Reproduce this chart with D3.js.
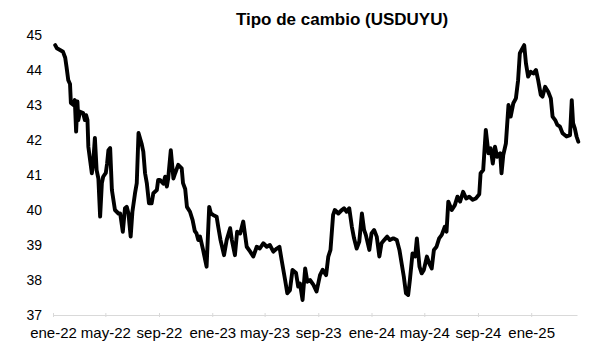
<!DOCTYPE html>
<html>
<head>
<meta charset="utf-8">
<script src="https://cdn.jsdelivr.net/npm/d3@7"></script>
<style>
  body { margin: 0; background: #fff; }
  svg { display: block; font-family: Arial, "Liberation Sans", sans-serif; }
</style>
</head>
<body>
<div id="chart"></div>
<script>
// Tipo de cambio USDUYU, lectura aproximada del gráfico
const fechas = [
  "2022-01-06","2022-01-10","2022-01-17","2022-01-24","2022-01-29","2022-02-01","2022-02-05","2022-02-09",
  "2022-02-11","2022-02-17","2022-02-20","2022-02-23","2022-02-26","2022-02-28","2022-03-04","2022-03-11",
  "2022-03-15","2022-03-18","2022-03-21","2022-03-23","2022-03-27","2022-03-31","2022-04-03","2022-04-07",
  "2022-04-11","2022-04-15","2022-04-19","2022-04-23","2022-04-26","2022-05-02","2022-05-05","2022-05-08",
  "2022-05-12","2022-05-16","2022-05-23","2022-05-31","2022-06-04","2022-06-10","2022-06-15","2022-06-19",
  "2022-06-23","2022-06-28","2022-07-02","2022-07-08","2022-07-12","2022-07-16","2022-07-23","2022-07-27",
  "2022-07-31","2022-08-04","2022-08-09","2022-08-15","2022-08-19","2022-08-27","2022-08-30","2022-09-03",
  "2022-09-11","2022-09-15","2022-09-19","2022-09-22","2022-09-28","2022-10-04","2022-10-08","2022-10-15",
  "2022-10-23","2022-10-26","2022-10-31","2022-11-04","2022-11-11","2022-11-17","2022-11-22","2022-11-26",
  "2022-11-30","2022-12-04","2022-12-11","2022-12-19","2022-12-25","2022-12-29","2023-01-03","2023-01-11",
  "2023-01-15","2023-01-20","2023-01-28","2023-02-03","2023-02-11","2023-02-15","2023-02-22","2023-02-27",
  "2023-03-06","2023-03-13","2023-03-21","2023-03-29","2023-04-05","2023-04-13","2023-04-20","2023-04-28",
  "2023-05-06","2023-05-13","2023-05-21","2023-05-29","2023-06-04","2023-06-09","2023-06-17","2023-06-22",
  "2023-06-28","2023-07-04","2023-07-12","2023-07-17","2023-07-21","2023-07-27","2023-08-02","2023-08-07",
  "2023-08-13","2023-08-21","2023-08-28","2023-09-05","2023-09-11","2023-09-19","2023-09-24","2023-09-29",
  "2023-10-05","2023-10-09","2023-10-17","2023-10-25","2023-10-30","2023-11-05","2023-11-11","2023-11-17",
  "2023-11-22","2023-11-28","2023-12-04","2023-12-10","2023-12-15","2023-12-19","2023-12-27","2024-01-01",
  "2024-01-07","2024-01-13","2024-01-19","2024-01-24","2024-01-30","2024-02-06","2024-02-12","2024-02-20",
  "2024-02-28","2024-03-05","2024-03-10","2024-03-15","2024-03-20","2024-03-25","2024-03-29","2024-04-04",
  "2024-04-10","2024-04-14","2024-04-20","2024-04-25","2024-04-30","2024-05-07","2024-05-12","2024-05-18",
  "2024-05-23","2024-05-29","2024-06-04","2024-06-10","2024-06-17","2024-06-21","2024-06-25","2024-07-03",
  "2024-07-10","2024-07-16","2024-07-22","2024-07-29","2024-08-05","2024-08-12","2024-08-20","2024-08-27",
  "2024-09-04","2024-09-07","2024-09-13","2024-09-19","2024-09-25","2024-09-30","2024-10-05","2024-10-10",
  "2024-10-15","2024-10-22","2024-10-25","2024-10-29","2024-11-04","2024-11-10","2024-11-15","2024-11-21",
  "2024-11-27","2024-12-02","2024-12-06","2024-12-10","2024-12-16","2024-12-20","2024-12-25","2024-12-31",
  "2025-01-06","2025-01-12","2025-01-17","2025-01-23","2025-01-27","2025-02-02","2025-02-09","2025-02-15",
  "2025-02-19","2025-02-25","2025-03-02","2025-03-08","2025-03-14","2025-03-23","2025-03-31","2025-04-04",
  "2025-04-07","2025-04-11","2025-04-15","2025-04-19"
];

const usduyu = [
  44.71,44.62,44.57,44.52,44.35,44.09,43.71,43.60,
  43.06,43.00,43.14,42.24,43.10,42.57,42.81,42.77,
  42.57,42.71,42.57,41.81,41.43,41.05,41.33,42.06,
  41.14,40.90,39.81,40.77,40.95,41.06,41.33,41.71,
  41.77,40.57,40.00,39.90,39.90,39.38,40.05,40.09,
  39.90,39.24,39.95,40.48,40.77,42.20,41.90,41.67,
  41.05,40.77,40.19,40.19,40.48,40.57,40.86,40.86,
  40.75,40.95,40.67,40.90,41.71,40.90,41.05,41.29,
  41.19,40.77,40.60,40.09,39.95,39.71,39.40,39.33,
  39.14,39.24,38.86,38.38,40.09,39.90,39.86,39.81,
  39.50,39.14,38.71,39.14,39.48,39.14,38.71,39.38,
  39.33,39.67,38.95,38.81,38.67,38.95,38.90,39.05,
  38.95,39.00,38.81,38.90,38.95,38.57,38.00,37.62,
  37.71,38.29,38.20,37.81,37.90,37.43,38.33,37.95,
  38.00,37.86,37.67,38.14,38.29,38.14,38.67,38.86,
  39.86,40.00,39.90,40.00,40.05,39.95,40.05,39.52,
  39.19,38.90,39.10,39.90,39.43,39.29,38.86,39.33,
  39.43,39.24,38.67,39.05,39.14,39.24,39.14,39.19,
  39.14,38.86,38.48,38.10,37.62,37.57,38.00,38.76,
  38.67,39.19,38.38,38.19,38.29,38.67,38.48,38.33,
  38.86,38.95,39.19,39.29,39.52,39.38,40.24,40.00,
  40.14,40.38,40.24,40.52,40.33,40.38,40.29,40.33,
  40.45,41.05,41.14,42.29,41.62,41.76,41.33,41.81,
  41.52,41.62,41.05,41.57,41.90,43.00,42.67,43.05,
  43.19,43.71,44.48,44.57,44.71,44.19,43.81,43.95,
  43.90,44.00,43.71,43.29,43.24,43.52,43.38,43.19,
  42.67,42.57,42.43,42.38,42.19,42.10,42.14,43.14,
  42.48,42.33,42.10,41.95
];

const yTicks = [37, 38, 39, 40, 41, 42, 43, 44, 45];
const mesesAbrev = ["ene","feb","mar","abr","may","jun","jul","ago","sep","oct","nov","dic"];
const titulo = "Tipo de cambio (USDUYU)";

const width = 609;
const height = 343;
const parseDate = d3.timeParse("%Y-%m-%d");
const data = fechas.map((f, i) => ({date: parseDate(f), value: usduyu[i]}));

const x = d3.scaleTime()
    .domain([parseDate("2022-01-01"), parseDate("2025-04-16")])
    .range([53, 577]);

const y = d3.scaleLinear()
    .domain([37, 45])
    .range([315, 35]);

const svg = d3.select("#chart").append("svg")
    .attr("width", width)
    .attr("height", height)
    .attr("viewBox", [0, 0, width, height]);

// titulo
svg.append("text")
    .attr("x", 342)
    .attr("y", 25)
    .attr("text-anchor", "middle")
    .attr("font-weight", "bold")
    .attr("font-size", 17)
    .attr("fill", "#000")
    .text(titulo);

// eje x
const fmtMes = d => `${mesesAbrev[d.getMonth()]}-${String(d.getFullYear()).slice(2)}`;
const xAxis = d3.axisBottom(x)
    .ticks(d3.timeMonth.every(4))
    .tickFormat(fmtMes)
    .tickSizeInner(4)
    .tickSizeOuter(0)
    .tickPadding(10);

svg.append("g")
    .attr("transform", "translate(0,313)")
    .call(xAxis)
    .call(g => g.select(".domain").attr("stroke", "#d9d9d9").attr("transform", "translate(0,2)"))
    .call(g => g.selectAll(".tick line").attr("stroke", "#d9d9d9"))
    .call(g => g.selectAll(".tick text")
      .attr("fill", "#000")
      .attr("font-size", 15)
      .attr("font-family", "Arial, 'Liberation Sans', sans-serif"));

// eje y (solo etiquetas)
svg.append("g")
    .selectAll("text")
    .data(yTicks)
    .join("text")
      .attr("x", 42)
      .attr("y", d => y(d))
      .attr("dy", "0.35em")
      .attr("text-anchor", "end")
      .attr("font-size", 14)
      .attr("fill", "#000")
      .text(d => d);

// serie
const line = d3.line()
    .x(d => x(d.date))
    .y(d => y(d.value));

svg.append("path")
    .datum(data)
    .attr("fill", "none")
    .attr("stroke", "#000")
    .attr("stroke-width", 3.9)
    .attr("stroke-linejoin", "round")
    .attr("stroke-linecap", "round")
    .attr("d", line);
</script>
</body>
</html>
